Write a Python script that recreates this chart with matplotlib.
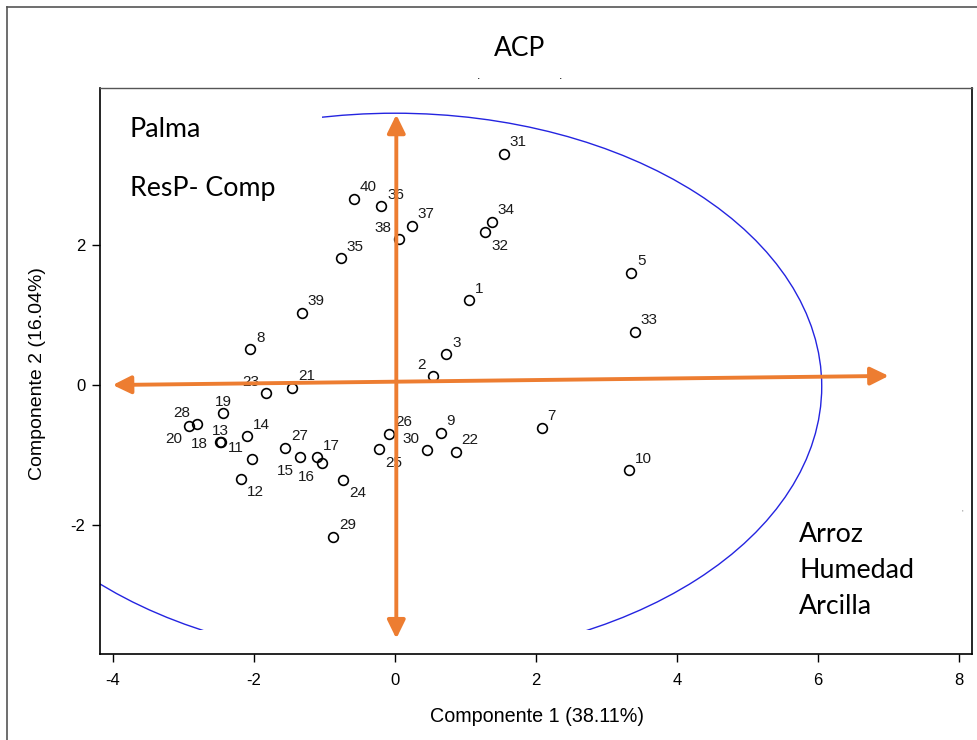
import matplotlib
matplotlib.use("Agg")
import matplotlib.pyplot as plt
from matplotlib.patches import Ellipse, Rectangle
from matplotlib.lines import Line2D

# PCA scores (Componente 1, Componente 2)
ids = [1, 2, 3, 5, 7, 8, 9, 10, 11, 12, 13, 14, 15, 16, 17, 18, 19, 20, 21, 22,
       23, 24, 25, 26, 27, 28, 29, 30, 31, 32, 33, 34, 35, 36, 37, 38, 39, 40]
pc1 = [1.05, 0.54, 0.73, 3.35, 2.08, -2.05, 0.65, 3.32, -2.03, -2.18,
       -2.47, -2.10, -1.34, -1.04, -1.11, -2.48, -2.43, -2.92, -1.46, 0.86,
       -1.82, -0.73, -0.22, -0.08, -1.56, -2.80, -0.88, 0.46, 1.54, 1.28,
       3.40, 1.37, -0.77, -0.19, 0.24, 0.06, -1.32, -0.58]
pc2 = [1.21, 0.13, 0.44, 1.60, -0.61, 0.51, -0.68, -1.22, -1.05, -1.34,
       -0.81, -0.73, -1.03, -1.12, -1.03, -0.81, -0.40, -0.58, -0.04, -0.95,
       -0.12, -1.35, -0.92, -0.70, -0.90, -0.55, -2.17, -0.93, 3.30, 2.18,
       0.76, 2.33, 1.81, 2.55, 2.27, 2.09, 1.03, 2.66]

# arrows (start, end) drawn on the biplot
arrow_h = [(-4.0, 0.0), (7.0, 0.13)]
arrow_v = [(0.02, -3.62), (0.02, 3.86)]

# confidence ellipse
ell_center = (0.0, -0.02)
ell_w = 12.1
ell_h = 7.8

xticks = [-4, -2, 0, 2, 4, 6, 8]
yticks = [-2, 0, 2]

# where each label sits relative to its point
label_pos = {2: 'ul', 11: 'ul', 23: 'ul', 28: 'ul', 30: 'ul', 38: 'ul',
             15: 'll', 16: 'll', 20: 'll',
             12: 'lr', 24: 'lr', 25: 'lr', 32: 'lr',
             13: 'u', 19: 'u', 18: 'l'}
offsets = {'ur': ((4.3, 5.5), 'left'), 'ul': ((-5.4, 5.0), 'right'),
           'll': ((-5.0, -12.5), 'right'), 'lr': ((4.3, -12.5), 'left'),
           'u': ((0, 5.0), 'center'), 'l': ((-8.4, -4.3), 'right')}

plt.rcParams['font.family'] = ['Liberation Sans', 'DejaVu Sans']
plt.rcParams['axes.unicode_minus'] = False
orange = '#ED7D31'

fig = plt.figure(figsize=(9.78, 7.40), dpi=100)
ax = fig.add_axes([100 / 978, 1 - 654 / 740, 872 / 978, 566 / 740])
ax.set_xlim(-4.18, 8.18)
ax.set_ylim(-3.84, 4.24)

# outer frame
fig.add_artist(Line2D([7 / 978, 1], [1 - 7 / 740] * 2, color='#555555', lw=1.2))
fig.add_artist(Line2D([7 / 978] * 2, [0, 1 - 7 / 740], color='#555555', lw=1.2))

ell = Ellipse(ell_center, ell_w, ell_h, fill=False, edgecolor='#2424E0', lw=1.0, zorder=1.5)
ax.add_patch(ell)
clip = Rectangle((-4.18, -3.50), 12.36, 7.8, transform=ax.transData)
ell.set_clip_path(clip)
ax.add_patch(Rectangle((-4.18, 2.58), 3.14, 1.7, facecolor='white', edgecolor='none', zorder=2))

ax.plot(pc1, pc2, 'o', mfc='none', mec='black', mew=1.2, ms=7, zorder=3)
for i, x, y in zip(ids, pc1, pc2):
    (dx, dy), ha = offsets[label_pos.get(i, 'ur')]
    ax.annotate(str(i), (x, y), xytext=(dx, dy), textcoords='offset points',
                ha=ha, va='baseline', fontsize=11, color='#1a1a1a', zorder=4)

for a in (arrow_h, arrow_v):
    ax.annotate('', xy=a[1], xytext=a[0],
                arrowprops=dict(arrowstyle='<|-|>,head_length=0.55,head_width=0.27',
                                color=orange, lw=2.8, mutation_scale=20,
                                shrinkA=0, shrinkB=0), zorder=5)

calib = ['Lato', 'DejaVu Sans']
ax.text(-3.76, 3.54, 'Palma', fontsize=19.3, family=calib, va='baseline', zorder=6)
ax.text(-3.76, 2.70, 'ResP- Comp', fontsize=19.3, family=calib, va='baseline', zorder=6)
ax.text(5.73, -2.24, 'Arroz', fontsize=19.3, family=calib, va='baseline', zorder=6)
ax.text(5.73, -2.76, 'Humedad', fontsize=19.3, family=calib, va='baseline', zorder=6)
ax.text(5.73, -3.27, 'Arcilla', fontsize=19.3, family=calib, va='baseline', zorder=6)

fig.text(520 / 978, 1 - 56 / 740, 'ACP', fontsize=19, family=calib, ha='center', va='baseline')
fig.text(479 / 978, 1 - 79 / 740, '.', fontsize=9, ha='center', va='baseline')
fig.text(561 / 978, 1 - 79 / 740, '.', fontsize=9, ha='center', va='baseline')
fig.text(962 / 978, 1 - 514 / 740, "'", fontsize=6, color='#777777', ha='center', va='baseline')

ax.set_xticks(xticks)
ax.set_yticks(yticks)
ax.tick_params(axis='both', direction='out', length=6, width=1.0, labelsize=12)
ax.tick_params(axis='x', pad=8)
ax.tick_params(axis='y', pad=4.5)
for s in ('left', 'bottom', 'right'):
    ax.spines[s].set_linewidth(1.2)
ax.spines['top'].set_color('#555555')
ax.spines['top'].set_linewidth(1.0)

fig.text(537 / 978, 1 - 716 / 740, 'Componente 1 (38.11%)', fontsize=14.2, ha='center', va='center')
fig.text(38 / 978, 1 - 374 / 740, 'Componente 2 (16.04%)', fontsize=14, rotation=90,
         ha='center', va='center')

fig.savefig('out.png', dpi=100)
